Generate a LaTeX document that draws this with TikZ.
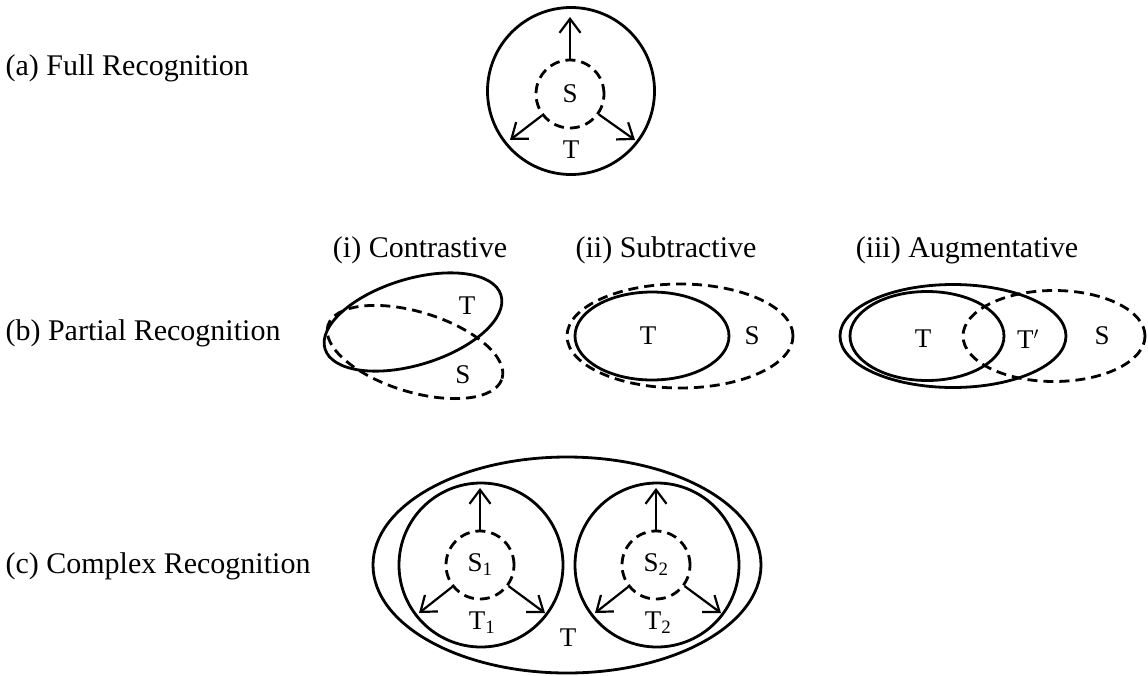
\documentclass[tikz,border=0pt]{standalone}
\usepackage{fontspec}
\setmainfont{Liberation Serif}
\usetikzlibrary{shapes.geometric}
\usetikzlibrary{arrows.meta}

\begin{document}
\begin{tikzpicture}[x=1pt,y=-1pt,
  >={Straight Barb[length=14pt,width=21pt]},
  ring/.style={draw,circle,line width=2.8pt,inner sep=0pt},
  oval/.style={draw,ellipse,line width=2.8pt,inner sep=0pt},
  srcline/.style={dash pattern=on 10pt off 6pt},
  caption/.style={font=\fontsize{30}{36}\selectfont},
  lbl/.style={font=\fontsize{27}{32}\selectfont,inner sep=0pt},
  spoke/.style={->,line width=2.2pt}]
\useasboundingbox (0,0) rectangle (1148,675);

% (a) full
\node[caption,anchor=west] (capa) at (2,68) {(a) Full Recognition};
\node[ring,minimum size=167pt] (ta) at (571,91) {};
\node[ring,srcline,lbl,minimum size=68pt] (sa) at (570,94) {S};
\node[lbl] (tla) at (571,150) {T};
\coordinate (au) at (570,17);
\coordinate (al) at (510,140);
\coordinate (ar) at (635,140);
\draw[spoke] (sa) -- (au);
\draw[spoke] (sa) -- (al);
\draw[spoke] (sa) -- (ar);

% (b) partial
\node[caption,anchor=west] (capb) at (2,333) {(b) Partial Recognition};
\node[caption] (capi) at (420,250) {(i) Contrastive};
\node[caption] (capii) at (666,250) {(ii) Subtractive};
\node[caption] (capiii) at (967,250) {(iii) Augmentative};

\node[oval,rotate=17,minimum width=184pt,minimum height=86pt] (tc) at (413,322) {};
\node[oval,srcline,rotate=-17,minimum width=182pt,minimum height=80pt] (sc) at (415,352) {};
\node[lbl] (tlc) at (467,306) {T};
\node[lbl] (slc) at (463,375) {S};

\node[oval,minimum width=154pt,minimum height=88pt] (ts) at (652,336) {};
\node[oval,srcline,minimum width=226pt,minimum height=104pt] (ss) at (680,336) {};
\node[lbl] (tls) at (648,336) {T};
\node[lbl] (sls) at (752,336) {S};

\node[oval,minimum width=226pt,minimum height=103pt] (tg) at (953,336) {};
\node[oval,minimum width=154pt,minimum height=89pt] (tgi) at (927,336) {};
\node[oval,srcline,minimum width=182pt,minimum height=91pt] (sg) at (1054,336) {};
\node[lbl] (tlg) at (923,339) {T};
\node[lbl] (tplg) at (1028,339) {T$'$};
\node[lbl] (slg) at (1102,336) {S};

% (c) complex
\node[caption,anchor=west] (capc) at (2,566) {(c) Complex Recognition};
\node[oval,minimum width=388pt,minimum height=216pt] (tx) at (567,565) {};
\node[lbl] (tlx) at (568,638) {T};

\node[ring,minimum size=164pt] (t1) at (481,565) {};
\node[ring,srcline,lbl,minimum size=68pt] (s1) at (480,565) {S\textsubscript{1}};
\node[lbl] (tl1) at (482,623) {T\textsubscript{1}};
\coordinate (u1) at (480,488);
\coordinate (l1) at (419,613);
\coordinate (r1) at (545,613);
\draw[spoke] (s1) -- (u1);
\draw[spoke] (s1) -- (l1);
\draw[spoke] (s1) -- (r1);

\node[ring,minimum size=164pt] (t2) at (657,565) {};
\node[ring,srcline,lbl,minimum size=68pt] (s2) at (656,565) {S\textsubscript{2}};
\node[lbl] (tl2) at (658,623) {T\textsubscript{2}};
\coordinate (u2) at (656,488);
\coordinate (l2) at (595,613);
\coordinate (r2) at (721,613);
\draw[spoke] (s2) -- (u2);
\draw[spoke] (s2) -- (l2);
\draw[spoke] (s2) -- (r2);
\end{tikzpicture}
\end{document}
